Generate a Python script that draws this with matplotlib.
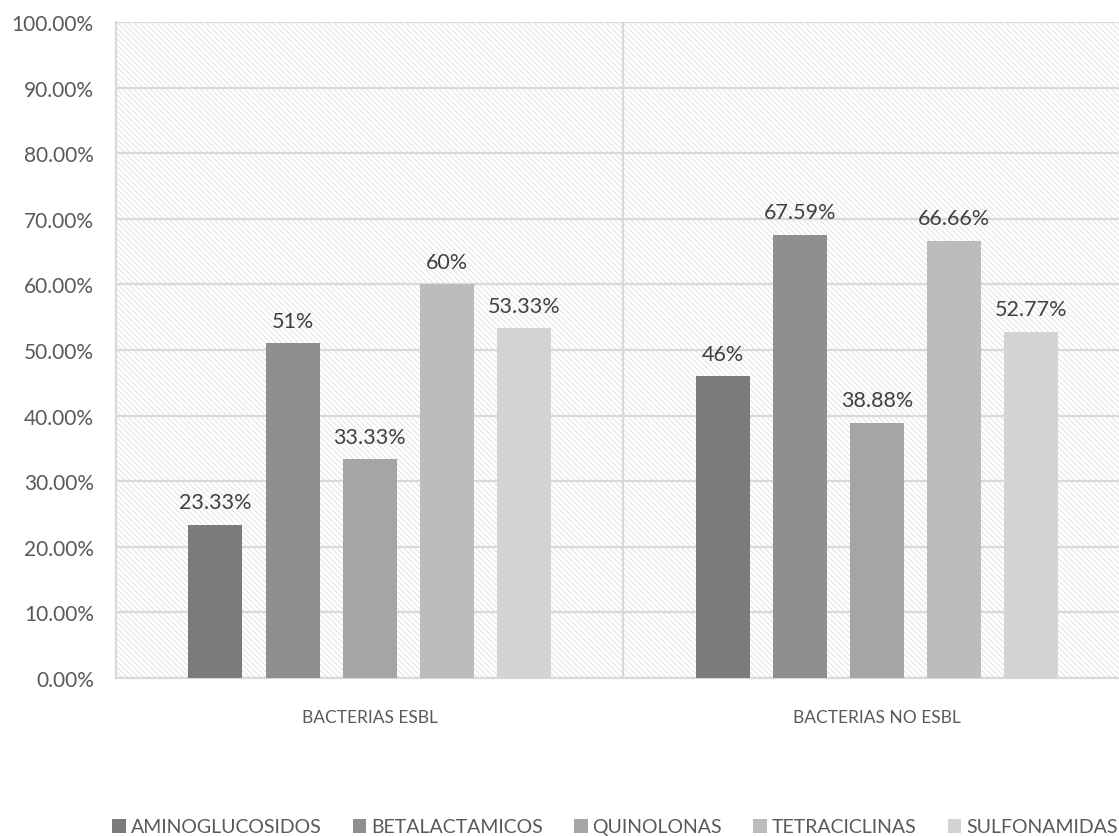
import matplotlib
matplotlib.use("Agg")
import matplotlib.pyplot as plt
import numpy as np
from matplotlib.patches import Rectangle
from matplotlib.ticker import MultipleLocator, FuncFormatter

groups = ["BACTERIAS ESBL", "BACTERIAS NO ESBL"]
families = ["AMINOGLUCOSIDOS", "BETALACTAMICOS", "QUINOLONAS", "TETRACICLINAS", "SULFONAMIDAS"]
values = [
    [0.2333, 0.46],
    [0.51, 0.6759],
    [0.3333, 0.3888],
    [0.60, 0.6666],
    [0.5333, 0.5277],
]
bar_labels = [
    ["23.33%", "46%"],
    ["51%", "67.59%"],
    ["33.33%", "38.88%"],
    ["60%", "66.66%"],
    ["53.33%", "52.77%"],
]
colors = ["#7b7b7b", "#8f8f8f", "#a5a5a5", "#bcbcbc", "#d3d3d3"]

plt.rcParams["font.family"] = ["Lato", "DejaVu Sans"]
plt.rcParams["hatch.linewidth"] = 0.7
text_col = "#595959"
grid_col = "#d9d9d9"

fig = plt.figure(figsize=(11.19, 8.37), dpi=100)
ax = fig.add_axes([116 / 1119, 1 - 679 / 837, 1014.5 / 1119, 656 / 837])

# hatched plot background
bg = Rectangle((0, 0), 1, 1, transform=ax.transAxes, facecolor="white",
               edgecolor="#e2e2e2", hatch="\\\\\\\\\\\\", linewidth=0, zorder=0)
ax.add_patch(bg)

x = np.arange(len(groups))
step = 0.152
width = 0.1065
for i, fam in enumerate(families):
    pos = x + (i - 2) * step
    bars = ax.bar(pos, values[i], width, color=colors[i], label=fam, zorder=3)
    for b, lab in zip(bars, bar_labels[i]):
        ax.text(b.get_x() + b.get_width() / 2, b.get_height() + 0.019, lab,
                ha="center", va="bottom", fontsize=15.5, color="#404040", zorder=4)

ax.set_xlim(-0.5, 1.5)
ax.set_ylim(0, 1.0)
ax.yaxis.set_major_locator(MultipleLocator(0.1))
ax.yaxis.set_major_formatter(FuncFormatter(lambda v, p: f"{v * 100:.2f}%"))
ax.grid(axis="y", color=grid_col, linewidth=1.6, zorder=1)
ax.axvline(0.5, color=grid_col, linewidth=1.6, zorder=1)
ax.set_xticks(x)
ax.set_xticklabels(groups)
ax.tick_params(axis="both", length=0, colors=text_col)
ax.tick_params(axis="x", pad=22, labelsize=12.5)
ax.tick_params(axis="y", pad=16, labelsize=15)
for side in ["top", "right"]:
    ax.spines[side].set_visible(False)
ax.spines["left"].set_color(grid_col)
ax.spines["left"].set_linewidth(1.6)
ax.spines["bottom"].set_color(grid_col)
ax.spines["bottom"].set_linewidth(1.6)

leg = fig.legend(loc="center", bbox_to_anchor=(615 / 1119, 1 - 828 / 837), ncol=5,
                 frameon=False, fontsize=14, handlelength=0.7, handleheight=0.7,
                 handletextpad=0.25, columnspacing=1.6)
for t in leg.get_texts():
    t.set_color(text_col)

fig.savefig("out.png", dpi=100)
